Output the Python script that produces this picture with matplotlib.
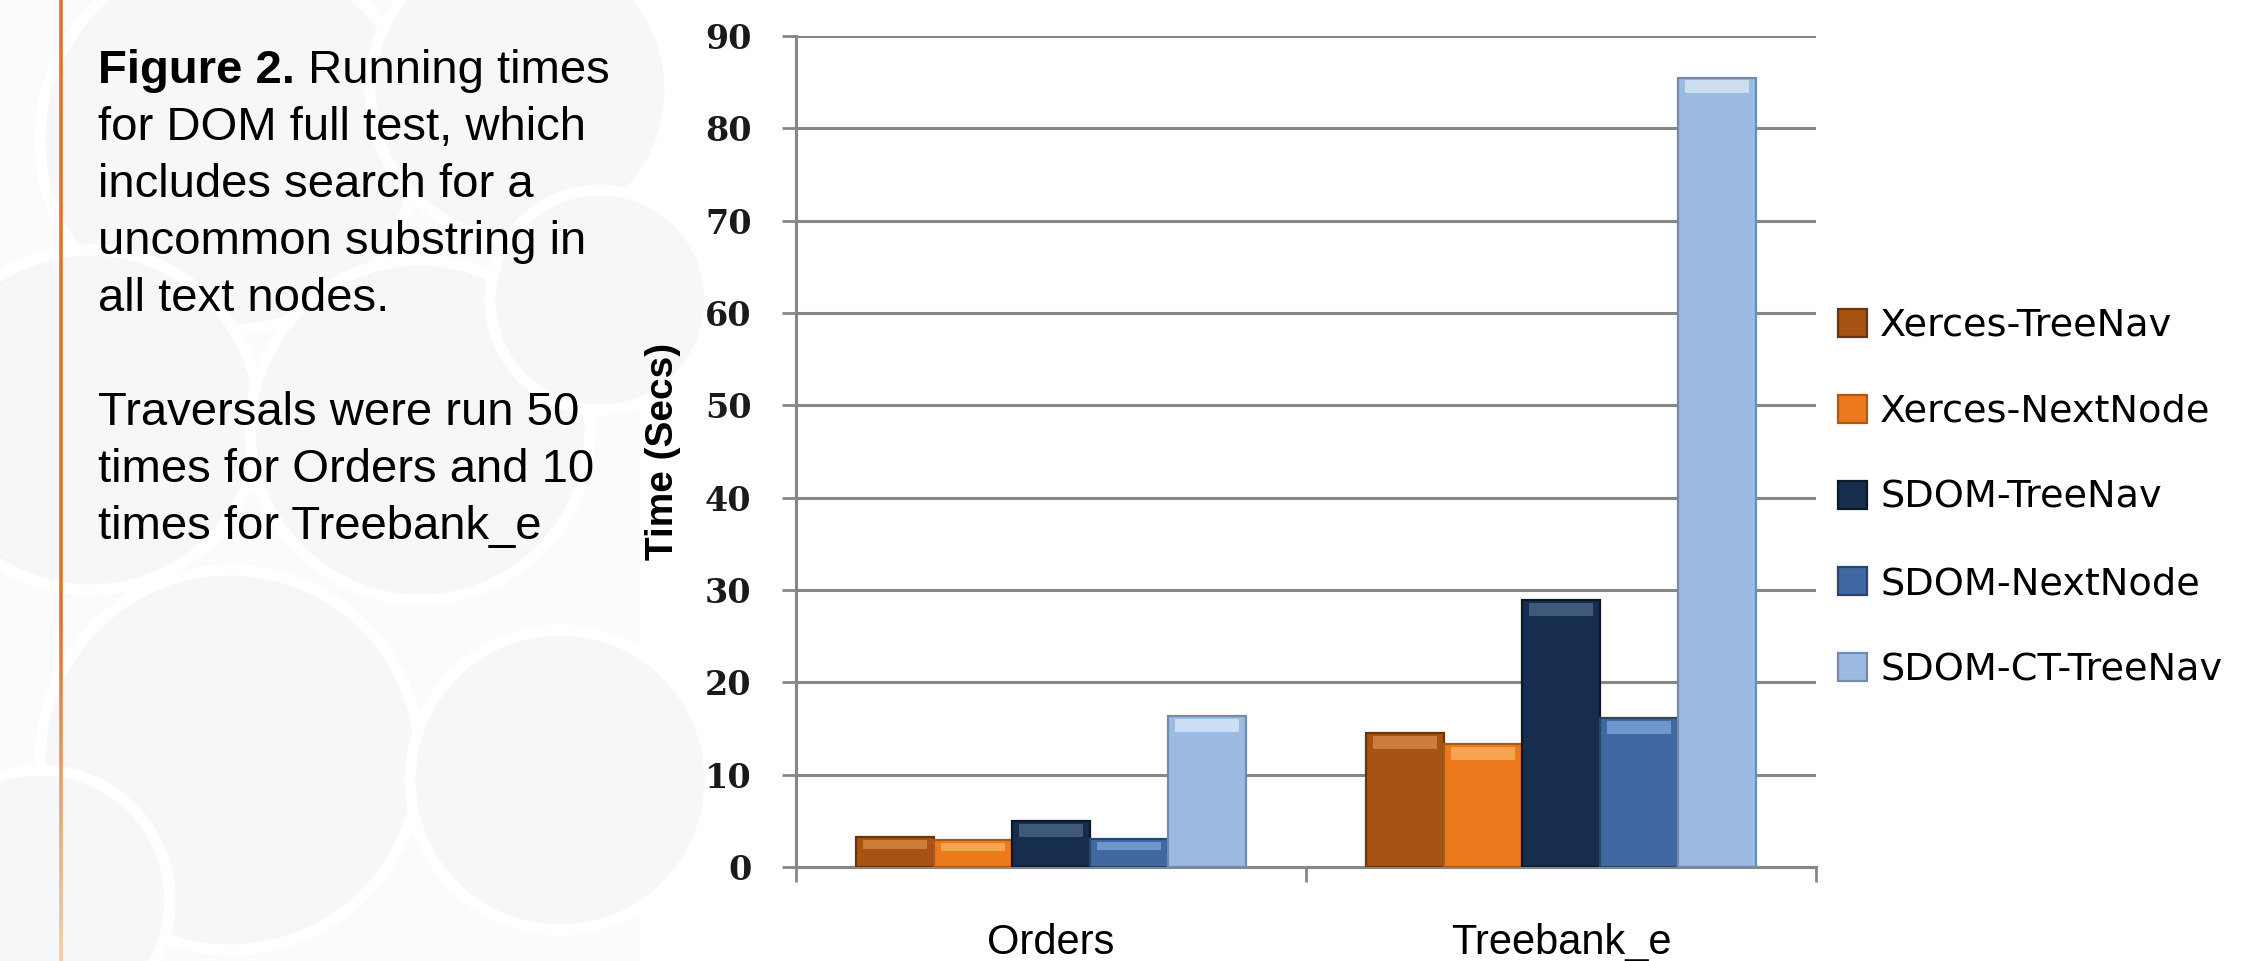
import matplotlib
matplotlib.use("Agg")
import matplotlib.pyplot as plt
import numpy as np
from matplotlib.patches import Circle, Rectangle
from matplotlib.collections import LineCollection

# ---------------- data ----------------
categories = ["Orders", "Treebank_e"]
series_names = ["Xerces-TreeNav", "Xerces-NextNode", "SDOM-TreeNav",
                "SDOM-NextNode", "SDOM-CT-TreeNav"]
xerces_treenav = [3.2, 14.5]
xerces_nextnode = [2.9, 13.3]
sdom_treenav = [5.0, 28.9]
sdom_nextnode = [3.0, 16.1]
sdom_ct_treenav = [16.3, 85.5]
y_ticks = [0, 10, 20, 30, 40, 50, 60, 70, 80, 90]
y_label = "Time (Secs)"
caption_bold = "Figure 2."
caption_lines = [" Running times", "for DOM full test, which", "includes search for a",
                 "uncommon substring in", "all text nodes.", "",
                 "Traversals were run 50", "times for Orders and 10",
                 "times for Treebank_e"]

series = [xerces_treenav, xerces_nextnode, sdom_treenav, sdom_nextnode, sdom_ct_treenav]

# ---------------- style ----------------
colors = ["#A65313", "#EC7A1C", "#172D4D", "#3F69A0", "#9BBBE2"]
edges = ["#6A340C", "#B0580F", "#0B1829", "#28466C", "#6F8CB0"]
highlights = ["#D98C4A", "#F9B462", "#4D6888", "#7FA8DA", "#DDEBF8"]
grid_col = "#878787"

W, H = 2246, 961
fig = plt.figure(figsize=(W / 100, H / 100), dpi=100)
fig.patch.set_facecolor("white")


def fy(py):
    return 1 - py / H


# ---- decorative background of the left panel ----
bg = fig.add_axes([0, 0, 1, 1], zorder=-10)
bg.set_xlim(0, W)
bg.set_ylim(H, 0)
bg.axis("off")
bg.add_patch(Rectangle((0, 0), 640, H, facecolor="#FBFBFC", edgecolor="none"))
for (cx, cy, r) in [(230, 140, 190), (520, 90, 150), (90, 420, 170), (420, 430, 170),
                    (230, 760, 190), (560, 780, 150), (40, 900, 130), (600, 300, 110)]:
    bg.add_patch(Circle((cx, cy), r, facecolor="#F6F7F9", edgecolor="white",
                        linewidth=8))
# orange rule, fading near the bottom
ys = np.linspace(0, H, 200)
segs = [[(61, ys[i]), (61, ys[i + 1])] for i in range(len(ys) - 1)]
fade = np.clip((ys[:-1] - 620) / 340, 0, 1)
c0 = np.array([0.88, 0.45, 0.16])
c1 = np.array([0.97, 0.80, 0.66])
cols = [tuple(c0 * (1 - f) + c1 * f) for f in fade]
bg.add_collection(LineCollection(segs, colors=cols, linewidths=2.6))

# ---------------- chart ----------------
ax = fig.add_axes([796 / W, 94 / H, 1020 / W, 831 / H])
x = np.arange(len(categories))
bw = 0.153
handles = []
for i, (name, vals) in enumerate(zip(series_names, series)):
    vals = np.array(vals, dtype=float)
    pos = x + (i - 2) * bw
    b = ax.bar(pos, vals, width=bw, color=colors[i], edgecolor=edges[i],
               linewidth=1.6, label=name, zorder=3)
    handles.append(b)
    band = np.minimum(1.4, vals * 0.3)
    ax.bar(pos, band, bottom=vals - band - 0.3, width=bw * 0.82,
           color=highlights[i], linewidth=0, zorder=4, alpha=0.75)

ax.set_xlim(-0.5, 1.5)
ax.set_ylim(0, 90)
ax.set_yticks(y_ticks)
ax.yaxis.grid(True, color=grid_col, linewidth=2.2, zorder=0)
ax.set_axisbelow(True)
for s in ["top", "right"]:
    ax.spines[s].set_visible(False)
for s in ["left", "bottom"]:
    ax.spines[s].set_color(grid_col)
    ax.spines[s].set_linewidth(2.2)

ax.tick_params(axis="y", length=10, width=2, color=grid_col, pad=22,
               labelsize=24, labelcolor="#1a1a1a")
for lab in ax.get_yticklabels():
    lab.set_fontfamily("DejaVu Serif")
    lab.set_fontweight("bold")

ax.set_xticks(x)
ax.set_xticklabels(categories, fontfamily="Liberation Sans", fontsize=30)
ax.tick_params(axis="x", which="major", length=0, pad=40, labelcolor="black")
ax.set_xticks([-0.5, 0.5, 1.5], minor=True)
ax.tick_params(axis="x", which="minor", length=11, width=2, color=grid_col)

fig.text(663 / W, fy(451), y_label, rotation=90, ha="center", va="center",
         fontsize=28, fontweight="bold", fontfamily="Liberation Sans")

fig.legend(handles=handles, labels=series_names, loc="center left",
           bbox_to_anchor=(1838 / W, fy(498)), frameon=False, fontsize=27.5,
           handlelength=0.76, handleheight=0.76, handletextpad=0.34,
           labelspacing=1.31, borderpad=0, borderaxespad=0)

# ---------------- caption text ----------------
fs = 34
base0 = 82.6
step = 57.0
t = fig.text(98 / W, fy(base0), caption_bold, fontsize=fs, fontweight="bold",
             fontfamily="Liberation Sans", va="baseline", ha="left")
renderer = fig.canvas.get_renderer()
bb = t.get_window_extent(renderer)
fig.text(bb.x1 / W, fy(base0), caption_lines[0], fontsize=fs,
         fontfamily="Liberation Sans", va="baseline", ha="left")
for k, line in enumerate(caption_lines[1:], start=1):
    if line:
        fig.text(98 / W, fy(base0 + k * step), line, fontsize=fs,
                 fontfamily="Liberation Sans", va="baseline", ha="left")

fig.savefig("out.png", dpi=100)
